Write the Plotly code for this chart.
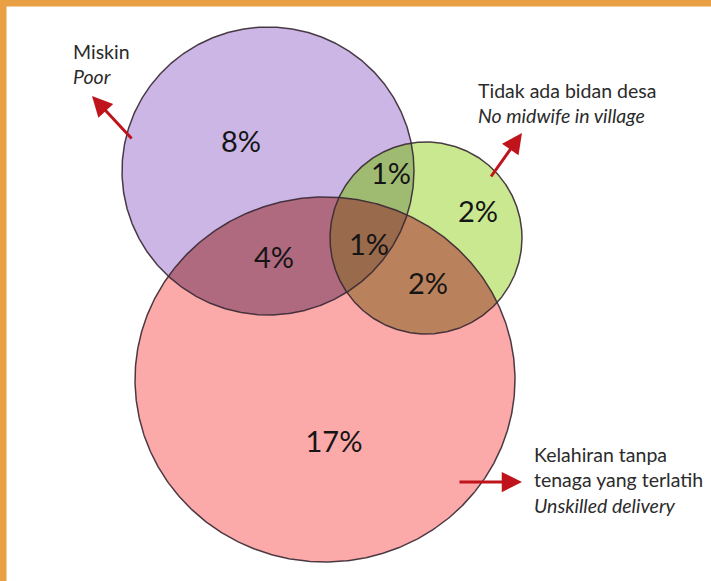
import numpy as np
import plotly.graph_objects as go

# ---- data ----
set_names = ["Miskin", "Tidak ada bidan desa", "Kelahiran tanpa tenaga yang terlatih"]
set_names_en = ["Poor", "No midwife in village", "Unskilled delivery"]
region_sets = [["P"], ["P", "M"], ["M"], ["P", "U"], ["P", "M", "U"], ["M", "U"], ["U"]]
region_pct = [8, 1, 2, 4, 1, 2, 17]

# ---- layout (pixel space) ----
W, H = 711, 581
ellipses = {
    "P": (268, 171, 146, 144),
    "M": (426, 238, 96, 96),
    "U": (325, 379.5, 190, 182.5),
}
fills = {
    ("P",): "#cbb6e6",
    ("M",): "#c9e88f",
    ("U",): "#fba9a9",
    ("M", "P"): "#9fbb72",
    ("P", "U"): "#b06a80",
    ("M", "U"): "#b9825c",
    ("M", "P", "U"): "#9a6a4c",
}
label_pos = [(241, 145), (391, 177), (478, 215), (274, 261), (369, 248), (428, 287), (334, 445)]


def boundary(key, n=720):
    cx, cy, rx, ry = ellipses[key]
    t = np.linspace(0, 2 * np.pi, n, endpoint=False)
    return cx + rx * np.cos(t), cy + ry * np.sin(t)


def inside(key, x, y, eps=1e-6):
    cx, cy, rx, ry = ellipses[key]
    return ((x - cx) / rx) ** 2 + ((y - cy) / ry) ** 2 <= 1 + eps


def intersection(keys):
    xs, ys = [], []
    for k in keys:
        bx, by = boundary(k)
        m = np.ones_like(bx, dtype=bool)
        for o in keys:
            if o != k:
                m &= inside(o, bx, by)
        xs.append(bx[m]); ys.append(by[m])
    x = np.concatenate(xs); y = np.concatenate(ys)
    mx, my = x.mean(), y.mean()
    order = np.argsort(np.arctan2(y - my, x - mx))
    x, y = x[order], y[order]
    return np.append(x, x[0]), np.append(y, y[0])


fig = go.Figure()

for keys in [("P",), ("M",), ("U",), ("M", "P"), ("P", "U"), ("M", "U"), ("M", "P", "U")]:
    x, y = intersection(list(keys))
    fig.add_trace(go.Scatter(x=x, y=y, mode="lines", fill="toself",
                             fillcolor=fills[keys], line=dict(width=0),
                             hoverinfo="skip", showlegend=False))

for k in ["P", "M", "U"]:
    bx, by = boundary(k)
    fig.add_trace(go.Scatter(x=np.append(bx, bx[0]), y=np.append(by, by[0]), mode="lines",
                             line=dict(color="rgba(55,40,50,0.9)", width=1.5),
                             hoverinfo="skip", showlegend=False))

fig.add_trace(go.Scatter(
    x=[p[0] for p in label_pos], y=[p[1] for p in label_pos], mode="text",
    text=[f"{v}%" for v in region_pct],
    textfont=dict(family="Lato, 'Open Sans', sans-serif", size=29, color="#151515"),
    hoverinfo="skip", showlegend=False))

arrow_color = "#c0141c"
txt_font = dict(family="Lato, 'Open Sans', sans-serif", size=19.5, color="#2b2b2b")
annos = [
    dict(x=92, y=96, ax=133, ay=140),
    dict(x=522, y=133, ax=490, ay=178),
    dict(x=522, y=482, ax=458, ay=482),
]
annotations = []
for a in annos:
    annotations.append(dict(x=a["x"], y=a["y"], ax=a["ax"], ay=a["ay"], xref="x", yref="y",
                            axref="x", ayref="y", text="", showarrow=True, arrowhead=2,
                            arrowsize=1.35, arrowwidth=3, arrowcolor=arrow_color))

texts = [
    (71, 63.5, f"{set_names[0]}<br><i>{set_names_en[0]}</i>"),
    (476, 103, f"{set_names[1]}<br><i>{set_names_en[1]}</i>"),
    (532, 480, "Kelahiran tanpa<br>tenaga yang terlatih<br><i>" + set_names_en[2] + "</i>"),
]
for x, y, t in texts:
    annotations.append(dict(x=x, y=y, xref="x", yref="y", text=t, showarrow=False,
                            xanchor="left", yanchor="middle", align="left", font=txt_font))

shapes = [
    dict(type="rect", xref="x", yref="y", x0=0, x1=W, y0=0, y1=6.5,
         fillcolor="#e9a045", line=dict(width=0), layer="above"),
    dict(type="rect", xref="x", yref="y", x0=0, x1=6.5, y0=0, y1=H,
         fillcolor="#e9a045", line=dict(width=0), layer="above"),
]

fig.update_layout(
    width=W, height=H, margin=dict(l=0, r=0, t=0, b=0),
    paper_bgcolor="white", plot_bgcolor="white",
    xaxis=dict(range=[0, W], visible=False, fixedrange=True),
    yaxis=dict(range=[H, 0], visible=False, fixedrange=True),
    annotations=annotations, shapes=shapes, showlegend=False,
)

fig.write_html("out.html", config={"displayModeBar": False},
               post_script="document.body.style.margin='0';document.body.style.overflow='hidden';")
